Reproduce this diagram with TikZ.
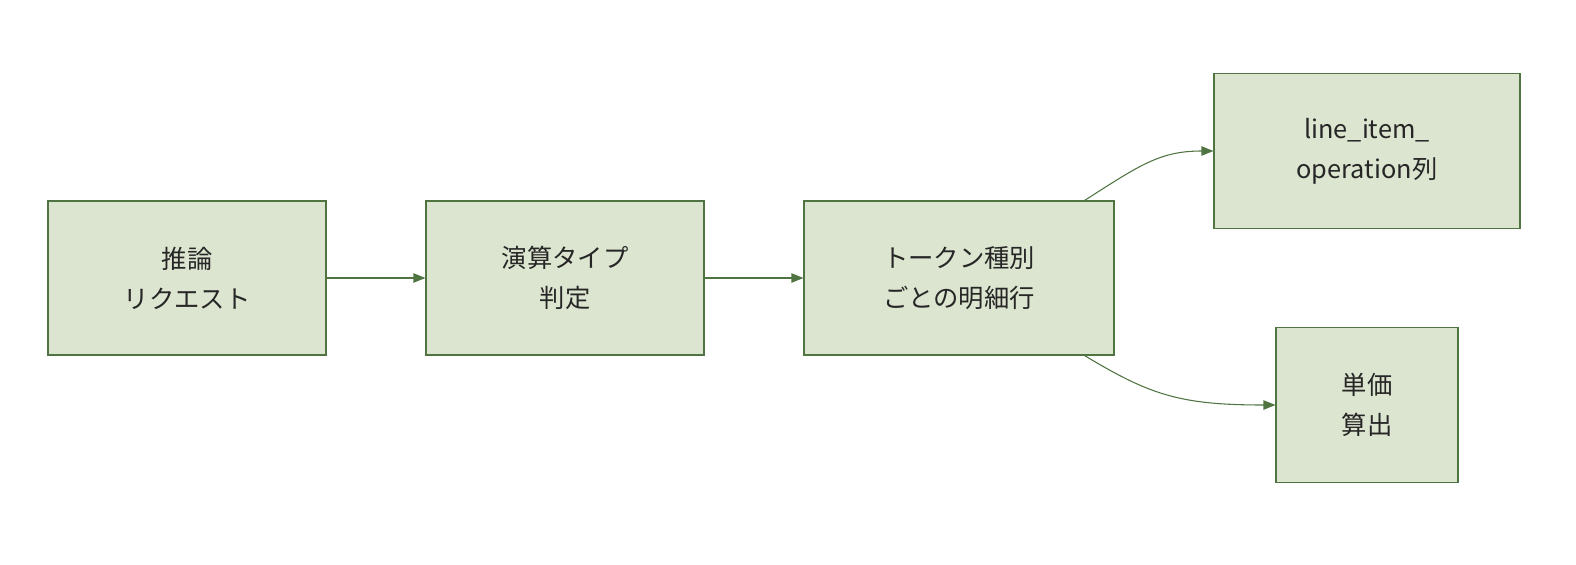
\documentclass[tikz,border=0pt]{standalone}
\usepackage{fontspec}
\setmainfont{Noto Sans CJK JP}
\usetikzlibrary{arrows.meta,positioning}
\definecolor{boxfill}{HTML}{DCE5CF}
\definecolor{boxline}{HTML}{4F7442}
\begin{document}
\begin{tikzpicture}[x=0.75pt,y=-0.75pt,>={Triangle[length=9pt,width=7pt]},
box/.style={draw=boxline,fill=boxfill,thick,align=center,inner sep=0pt,
 font=\fontsize{19}{30}\selectfont,text=black!85},
link/.style={->,draw=boxline,thick,color=boxline}]
\useasboundingbox (0,0) rectangle (1576,564);

\node[box,minimum width=208.5pt,minimum height=115.5pt] (req) at (187,278) {推論\\リクエスト};
\node[box,minimum width=208.5pt,minimum height=115.5pt] (kind) at (565,278) {演算タイプ\\判定};
\node[box,minimum width=232.5pt,minimum height=115.5pt] (rows) at (959,278) {トークン種別\\ごとの明細行};
\node[box,minimum width=229.5pt,minimum height=116pt] (ops) at (1367,151) {line\_item\_\\operation列};
\node[box,minimum width=136.5pt,minimum height=116pt] (price) at (1367,405) {単価\\算出};

\draw[link] (req) -- (kind);
\draw[link] (kind) -- (rows);
\draw[link] (rows.north east) ++(-30,0) coordinate (c1)
  (c1) .. controls (1140,165) and (1160,151) .. (ops.west);
\draw[link] (rows.south east) ++(-30,0) coordinate (c2)
  (c2) .. controls (1150,395) and (1180,405) .. (price.west);
\end{tikzpicture}
\end{document}
